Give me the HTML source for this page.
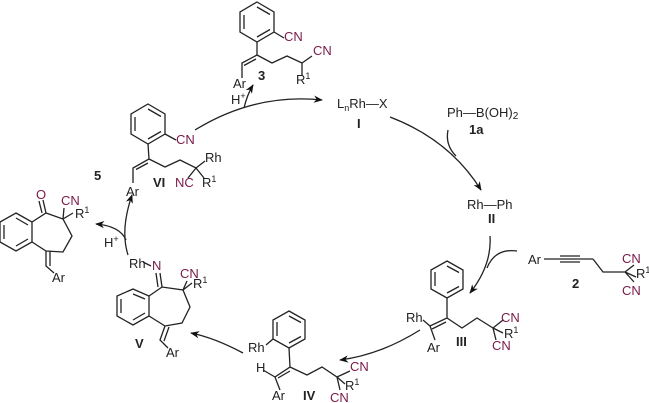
<!DOCTYPE html>
<html><head><meta charset="utf-8"><style>
html,body{margin:0;padding:0;background:#fff}
svg{display:block}
text{font-family:"Liberation Sans",sans-serif;font-size:13px;fill:#222}
.p{fill:#7a1a4a}
.b{font-weight:bold}
</style></head><body>
<svg width="649" height="403" viewBox="0 0 649 403" xmlns="http://www.w3.org/2000/svg">
<defs><marker id="a" viewBox="0 0 10 10" refX="9" refY="5" markerWidth="7" markerHeight="7" orient="auto"><path d="M0,1 L10,5 L0,9 L3,5z" fill="#111"/></marker></defs>
<g stroke="#222" stroke-width="1.3" fill="none">
<polygon points="257,2 274,12 274,32 257,42 240,32 240,12"/>
<path d="M257,7 L270,14.5 M270,29.5 L257,37 M244,29 L244,15"/>
<path d="M274,32 L284,38 M257,42 L257,55 L242,63 L242,78 M256,59 L244,65.5 M257,55 L272,63 L287,56 L302,63 L312,56 M302,63 L302,76"/>
<polygon points="148,104 165,114 165,134 148,144 131,134 131,114"/>
<path d="M148,109 L161,116.5 M161,131.5 L148,139 M135,131 L135,117"/>
<path d="M165,134 L176,140 M148,144 L149,159 L133,168 L133,183 M148,163 L136,169.5 M149,159 L165,167 L180,160 L196,168 L205,161 M196,168 L204,178 M196,168 L188,178"/>
<polygon points="16,213 32,222 32,242 16,251 0,242 0,222"/>
<path d="M16,218 L28,225 M28,239 L16,246 M4,239 L4,225"/>
<path d="M32,222 L46,213 L63,219 L72,236 L63,252 L46,251 L32,242 M46,213 L43,200 M42,213 L39,201 M63,219 L73,213 M63,219 L64,208 M46,251 L46,266 L54,273 M50,251 L50,266"/>
<polygon points="133,289 149,296 149,316 133,325 117,316 117,296"/>
<path d="M133,294 L145,299 M145,313 L133,320 M121,313 L121,299"/>
<path d="M149,296 L162,287 L183,290 L190,307 L182,323 L165,326 L149,316 M162,287 L160,273 M158,287 L156,273 M183,290 L192,283 M183,290 L187,281 M165,326 L160,340 L168,348 M169,327 L164,341 M143,262 L151,266"/>
<polygon points="289,311 305,320 305,339 289,348 273,339 273,320"/>
<path d="M289,316 L301,322.5 M301,336.5 L289,343 M277,336 L277,322"/>
<path d="M273,339 L266,345 M289,348 L290,367 L275,377 L280,390 M290,371 L278,378 M275,377 L263,370 M290,367 L307,375 L322,367 L337,377 L350,371 M337,377 L345,384 M337,377 L340,390"/>
<polygon points="447,261 463,270 463,289 447,298 431,289 431,270"/>
<path d="M447,266 L459,272.5 M459,286.5 L447,293 M435,286 L435,272"/>
<path d="M447,298 L447,318 L430,326 L435,340 M446,322 L432,329 M430,326 L423,320 M447,318 L462,328 L477,318 L493,328 L503,320 M493,328 L503,333 M493,328 L496,340"/>
<path d="M544,259 L593,259 M560,256 L580,256 M560,262 L580,262 M593,259 L603,272 L625,272 L634,265 M625,272 L636,277 M625,272 L634,282"/>
<path d="M195,130 Q255,93 322,100" marker-end="url(#a)"/>
<path d="M244,108 Q247,95 253,85" marker-end="url(#a)"/>
<path d="M390,117 Q450,140 481,190" marker-end="url(#a)"/>
<path d="M448,130 Q445,145 456,156"/>
<path d="M490,236 Q492,265 470,293" marker-end="url(#a)"/>
<path d="M517,251 Q495,248 487,268"/>
<path d="M420,330 Q380,355 340,360" marker-end="url(#a)"/>
<path d="M243,353 Q215,338 191,333" marker-end="url(#a)"/>
<path d="M128,255 Q120,230 132,195" marker-end="url(#a)"/>
<path d="M126,240 Q120,226 96,224" marker-end="url(#a)"/>
</g>
<text x="284" y="41" class="p">CN</text>
<text x="313" y="55" class="p">CN</text>
<text x="296" y="84">R<tspan font-size="9" dy="-5">1</tspan></text>
<text x="233" y="88">Ar</text>
<text x="258" y="80" class="b">3</text>
<text x="231" y="104">H<tspan font-size="9" dy="-5">+</tspan></text>
<text x="176" y="144" class="p">CN</text>
<text x="205" y="162">Rh</text>
<text x="202" y="187">R<tspan font-size="9" dy="-5">1</tspan></text>
<text x="175" y="187" class="p">NC</text>
<text x="153" y="187" class="b">VI</text>
<text x="126" y="196">Ar</text>
<text x="94" y="180" class="b">5</text>
<text x="36" y="199" class="p">O</text>
<text x="61" y="205" class="p">CN</text>
<text x="75" y="218">R<tspan font-size="9" dy="-5">1</tspan></text>
<text x="52" y="282">Ar</text>
<text x="104" y="247">H<tspan font-size="9" dy="-5">+</tspan></text>
<text x="129" y="268">Rh</text>
<text x="152" y="270" class="p">N</text>
<text x="180" y="278" class="p">CN</text>
<text x="193" y="288">R<tspan font-size="9" dy="-5">1</tspan></text>
<text x="135" y="348" class="b">V</text>
<text x="166" y="357">Ar</text>
<text x="248" y="352">Rh</text>
<text x="256" y="372">H</text>
<text x="272" y="400">Ar</text>
<text x="303" y="400" class="b">IV</text>
<text x="350" y="371" class="p">CN</text>
<text x="345" y="390">R<tspan font-size="9" dy="-5">1</tspan></text>
<text x="330" y="402" class="p">CN</text>
<text x="406" y="322">Rh</text>
<text x="427" y="352">Ar</text>
<text x="456" y="346" class="b">III</text>
<text x="501" y="322" class="p">CN</text>
<text x="504" y="338">R<tspan font-size="9" dy="-5">1</tspan></text>
<text x="492" y="350" class="p">CN</text>
<text x="528" y="264">Ar</text>
<text x="572" y="288" class="b">2</text>
<text x="622" y="263" class="p">CN</text>
<text x="636" y="278">R<tspan font-size="9" dy="-5">1</tspan></text>
<text x="622" y="295" class="p">CN</text>
<text x="467" y="209">Rh—Ph</text>
<text x="488" y="223" class="b">II</text>
<text x="337" y="108">L<tspan font-size="9" dy="3">n</tspan><tspan dy="-3">Rh—X</tspan></text>
<text x="357" y="128" class="b">I</text>
<text x="447" y="117">Ph—B(OH)<tspan font-size="10" dy="2">2</tspan></text>
<text x="469" y="134" class="b">1a</text>
</svg>
</body></html>
